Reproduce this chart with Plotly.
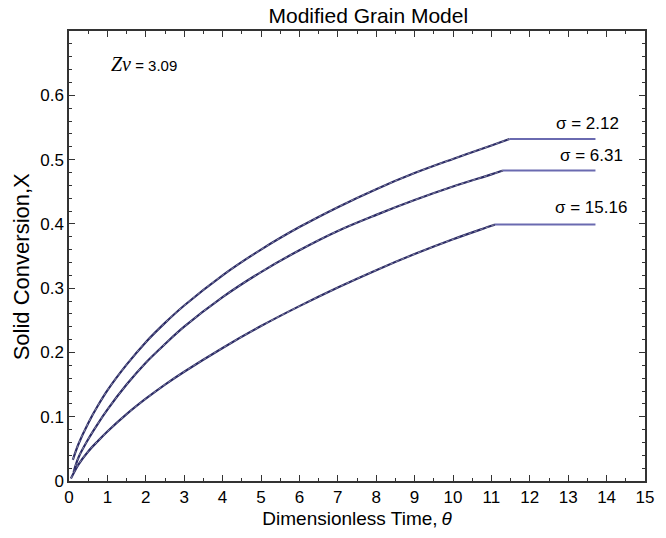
import plotly.graph_objects as go

# ---- data ----
theta_s212 = [0.1, 0.25, 0.5, 0.75, 1, 1.5, 2, 2.5, 3, 4, 5, 6, 7, 8, 9, 10, 11, 11.47]
X_s212 = [0.033, 0.058, 0.090, 0.117, 0.141, 0.181, 0.216, 0.246, 0.273, 0.320, 0.360, 0.395, 0.426, 0.454, 0.479, 0.501, 0.522, 0.532]
flat_s212_theta = [11.47, 13.71]
flat_s212_X = [0.532, 0.532]

theta_s631 = [0.12, 0.25, 0.5, 0.75, 1, 1.5, 2, 2.5, 3, 4, 5, 6, 7, 8, 9, 10, 11, 11.30]
X_s631 = [0.014, 0.037, 0.065, 0.089, 0.111, 0.150, 0.184, 0.213, 0.240, 0.286, 0.325, 0.359, 0.389, 0.414, 0.437, 0.458, 0.477, 0.483]
flat_s631_theta = [11.30, 13.71]
flat_s631_X = [0.483, 0.483]

theta_s1516 = [0.05, 0.25, 0.5, 0.75, 1, 1.5, 2, 2.5, 3, 4, 5, 6, 7, 8, 9, 10, 11, 11.09]
X_s1516 = [0.004, 0.026, 0.046, 0.062, 0.077, 0.104, 0.128, 0.150, 0.170, 0.207, 0.241, 0.272, 0.301, 0.328, 0.353, 0.376, 0.397, 0.399]
flat_s1516_theta = [11.09, 13.71]
flat_s1516_X = [0.399, 0.399]

x_ticks = list(range(0, 16))
y_ticks = [0, 0.1, 0.2, 0.3, 0.4, 0.5, 0.6]
y_ticktext = ["0", "0.1", "0.2", "0.3", "0.4", "0.5", "0.6"]

sigma_labels = ["\u03c3 = 2.12", "\u03c3 = 6.31", "\u03c3 = 15.16"]
sigma_label_x = [13.5, 13.6, 13.6]
sigma_label_y = [0.556, 0.506, 0.426]

curve_color = "#2a2a66"
flat_color = "#6a6ab0"
FONT = "Liberation Sans, Arial, sans-serif"

fig = go.Figure()
for th, xv, fth, fxv in [
    (theta_s212, X_s212, flat_s212_theta, flat_s212_X),
    (theta_s631, X_s631, flat_s631_theta, flat_s631_X),
    (theta_s1516, X_s1516, flat_s1516_theta, flat_s1516_X),
]:
    fig.add_trace(go.Scatter(x=th, y=xv, mode="lines", line=dict(color=curve_color, width=2.2, shape="spline", smoothing=1.0), showlegend=False))
    fig.add_trace(go.Scatter(x=th, y=xv, mode="lines", line=dict(color="#a0a0ae", width=0.8, dash="dot", shape="spline", smoothing=1.0), showlegend=False))
    fig.add_trace(go.Scatter(x=fth, y=fxv, mode="lines", line=dict(color=flat_color, width=1.8), showlegend=False))

for txt, lx, ly in zip(sigma_labels, sigma_label_x, sigma_label_y):
    fig.add_annotation(x=lx, y=ly, text=txt, showarrow=False, font=dict(family=FONT, size=17, color="black"))

fig.add_annotation(x=1.05, y=0.649, xanchor="left", showarrow=False,
                   text="<i><span style='font-family:Liberation Serif, Times New Roman, serif; font-size:20px'>Z\u03bd</span></i> = 3.09",
                   font=dict(family=FONT, size=15, color="black"))

# y-axis title as rotated annotation
fig.add_annotation(xref="paper", yref="paper", x=-0.081, y=0.4756, xanchor="center", yanchor="middle",
                   text="Solid Conversion,X", textangle=-90, showarrow=False,
                   font=dict(family=FONT, size=22, color="black"))

axis_common = dict(
    showline=True, linecolor="#333333", linewidth=1.5, mirror="ticks",
    ticks="inside", tickcolor="#333333", tickwidth=1.3, showgrid=False, zeroline=False,
    tickfont=dict(family=FONT, size=17, color="black"),
)

fig.update_xaxes(
    range=[0, 15], tickvals=x_ticks, ticklen=6,
    minor=dict(dtick=0.5, ticks="inside", ticklen=3, tickcolor="#333333", tickwidth=1.2, showgrid=False),
    title=dict(text="Dimensionless Time,\u2009<i>\u03b8</i>", font=dict(family=FONT, size=19, color="black"), standoff=6),
    **axis_common,
)
fig.update_yaxes(
    range=[0, 0.7], tickvals=y_ticks, ticktext=y_ticktext, ticklen=6,
    minor=dict(dtick=0.02, ticks="inside", ticklen=3, tickcolor="#333333", tickwidth=1.2, showgrid=False),
    **axis_common,
)

fig.update_layout(
    width=666, height=538,
    margin=dict(l=69, r=16, t=31, b=57),
    paper_bgcolor="white", plot_bgcolor="white",
    title=dict(text="Modified Grain Model", x=0.553, xanchor="center", y=0.985, yanchor="top",
               font=dict(family=FONT, size=21, color="black")),
)

fig.write_html("out.html")
